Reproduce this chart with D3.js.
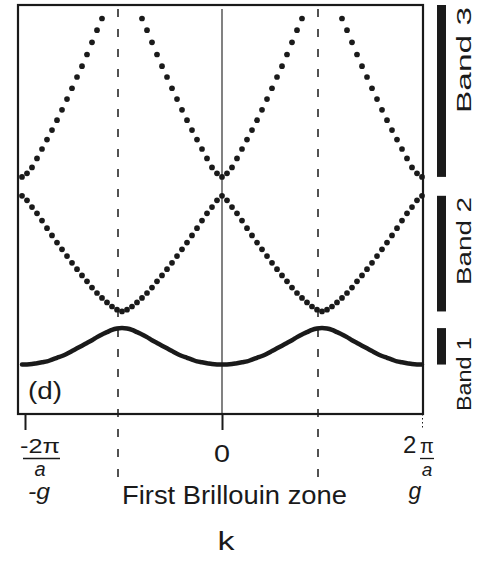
<!DOCTYPE html>
<html>
<head>
<meta charset="utf-8">
<script src="https://cdn.jsdelivr.net/npm/d3@7"></script>
<style>
  html, body { margin: 0; padding: 0; background: #fff; }
  svg { display: block; }
  text { font-family: "Liberation Sans", Arial, Helvetica, sans-serif; fill: #1a1a1a; }
</style>
</head>
<body>
<div id="chart"></div>
<script>
// Wave vector samples across two Brillouin zones, in units of pi/a
const kValues = [
  -2.00, -1.95, -1.90, -1.85, -1.80, -1.75, -1.70, -1.65, -1.60, -1.55,
  -1.50, -1.45, -1.40, -1.35, -1.30, -1.25, -1.20, -1.15, -1.10, -1.05,
  -1.00, -0.95, -0.90, -0.85, -0.80, -0.75, -0.70, -0.65, -0.60, -0.55,
  -0.50, -0.45, -0.40, -0.35, -0.30, -0.25, -0.20, -0.15, -0.10, -0.05,
   0.00,  0.05,  0.10,  0.15,  0.20,  0.25,  0.30,  0.35,  0.40,  0.45,
   0.50,  0.55,  0.60,  0.65,  0.70,  0.75,  0.80,  0.85,  0.90,  0.95,
   1.00,  1.05,  1.10,  1.15,  1.20,  1.25,  1.30,  1.35,  1.40,  1.45,
   1.50,  1.55,  1.60,  1.65,  1.70,  1.75,  1.80,  1.85,  1.90,  1.95,
   2.00
];

// Band energies (arbitrary units); null = above the plotted range
const band1 = [
  0.01, 0.01, 0.02, 0.04, 0.06, 0.08, 0.12, 0.16, 0.20, 0.25,
  0.31, 0.37, 0.43, 0.49, 0.55, 0.62, 0.68, 0.73, 0.78, 0.81,
  0.82, 0.81, 0.78, 0.73, 0.68, 0.62, 0.55, 0.49, 0.43, 0.37,
  0.31, 0.25, 0.20, 0.16, 0.12, 0.08, 0.06, 0.04, 0.02, 0.01,
  0.01, 0.01, 0.02, 0.04, 0.06, 0.08, 0.12, 0.16, 0.20, 0.25,
  0.31, 0.37, 0.43, 0.49, 0.55, 0.62, 0.68, 0.73, 0.78, 0.81,
  0.82, 0.81, 0.78, 0.73, 0.68, 0.62, 0.55, 0.49, 0.43, 0.37,
  0.31, 0.25, 0.20, 0.16, 0.12, 0.08, 0.06, 0.04, 0.02, 0.01,
  0.01
];

const band2 = [
  3.76, 3.66, 3.51, 3.37, 3.21, 3.04, 2.88, 2.72, 2.57, 2.42,
  2.27, 2.13, 1.99, 1.86, 1.72, 1.60, 1.49, 1.39, 1.30, 1.23,
  1.19, 1.23, 1.30, 1.39, 1.49, 1.60, 1.72, 1.86, 1.99, 2.13,
  2.27, 2.42, 2.57, 2.72, 2.88, 3.04, 3.21, 3.37, 3.51, 3.66,
  3.76, 3.66, 3.51, 3.37, 3.21, 3.04, 2.88, 2.72, 2.57, 2.42,
  2.27, 2.13, 1.99, 1.86, 1.72, 1.60, 1.49, 1.39, 1.30, 1.23,
  1.19, 1.23, 1.30, 1.39, 1.49, 1.60, 1.72, 1.86, 1.99, 2.13,
  2.27, 2.42, 2.57, 2.72, 2.88, 3.04, 3.21, 3.37, 3.51, 3.66,
  3.76
];

const band3 = [
  4.18, 4.26, 4.39, 4.59, 4.80, 5.01, 5.22, 5.44, 5.67, 5.91,
  6.15, 6.40, 6.64, 6.90, 7.17, 7.44, 7.70, null, null, null,
  null, null, null, null, 7.70, 7.44, 7.17, 6.90, 6.64, 6.40,
  6.15, 5.91, 5.67, 5.44, 5.22, 5.01, 4.80, 4.59, 4.39, 4.26,
  4.18, 4.26, 4.39, 4.59, 4.80, 5.01, 5.22, 5.44, 5.67, 5.91,
  6.15, 6.40, 6.64, 6.90, 7.17, 7.44, 7.70, null, null, null,
  null, null, null, null, 7.70, 7.44, 7.17, 6.90, 6.64, 6.40,
  6.15, 5.91, 5.67, 5.44, 5.22, 5.01, 4.80, 4.59, 4.39, 4.26,
  4.18
];

const bandNames = ["Band 1", "Band 2", "Band 3"];
const zoneLabel = "First Brillouin zone";
const axisLabel = "k";
const panelLabel = "(d)";

const W = 479, H = 566;
const frame = { left: 18, top: 5, right: 423, bottom: 414 };
const ink = "#1a1a1a";

const svg = d3.select("#chart").append("svg")
  .attr("width", W).attr("height", H)
  .attr("viewBox", `0 0 ${W} ${H}`);

svg.append("rect").attr("width", W).attr("height", H).attr("fill", "#fff");

const x = d3.scaleLinear().domain([-2, 2]).range([22, 422]);
const y = d3.scaleLinear().domain([-1.1, 8.0]).range([414.5, 5]);

// zone-centre reference line
svg.append("line")
  .attr("x1", x(0)).attr("x2", x(0))
  .attr("y1", frame.top + 4).attr("y2", frame.bottom)
  .attr("stroke", ink).attr("stroke-width", 1.1);

// zone boundaries at +/- pi/a
svg.selectAll("line.boundary").data([-1, 1]).enter().append("line")
  .attr("class", "boundary")
  .attr("x1", d => x(d) - 4).attr("x2", d => x(d) - 4)
  .attr("y1", frame.top + 4).attr("y2", 481)
  .attr("stroke", ink).attr("stroke-width", 1.5)
  .attr("stroke-dasharray", "8,12");

// bottom axis ticks at -g, 0, g
const axis = d3.axisBottom(x).tickValues([-2, 0, 2]).tickSize(16).tickFormat("");
const axisG = svg.append("g")
  .attr("transform", `translate(0,${frame.bottom})`)
  .call(axis);
axisG.select(".domain").remove();
axisG.selectAll(".tick line")
  .attr("stroke", ink)
  .attr("stroke-width", d => d === 2 ? 1 : 2)
  .attr("stroke-dasharray", d => d === 2 ? "1.5,2.5" : null)
  .attr("transform", d => d === -2 ? "translate(3,0)" : null);

// band 1: continuous curve
const line = d3.line()
  .defined((d, i) => band1[i] != null)
  .x((d, i) => x(kValues[i]))
  .y((d, i) => y(band1[i]))
  .curve(d3.curveCatmullRom);

svg.append("path")
  .datum(band1)
  .attr("d", line)
  .attr("fill", "none")
  .attr("stroke", ink)
  .attr("stroke-width", 4.5)
  .attr("stroke-linecap", "round")
  .attr("stroke-linejoin", "round");

// bands 2 and 3: dotted
[band2, band3].forEach(vals => {
  const pts = vals.map((v, i) => ({ k: kValues[i], e: v })).filter(d => d.e != null);
  svg.append("g").selectAll("circle").data(pts).enter().append("circle")
    .attr("cx", d => x(d.k))
    .attr("cy", d => y(d.e))
    .attr("r", 2.85)
    .attr("fill", ink);
});

// plot frame
svg.append("rect")
  .attr("x", frame.left).attr("y", frame.top)
  .attr("width", frame.right - frame.left)
  .attr("height", frame.bottom - frame.top)
  .attr("fill", "none").attr("stroke", ink).attr("stroke-width", 2.2);

// allowed-energy bars on the right
const bands = [band1, band2, band3];
bands.forEach((vals, i) => {
  const ext = d3.extent(vals.filter(v => v != null));
  const top = i === 2 ? y.domain()[1] : ext[1];
  svg.append("rect")
    .attr("x", 437).attr("width", 9)
    .attr("y", y(top))
    .attr("height", y(ext[0]) - y(top))
    .attr("fill", ink);
});

// band names, rotated
const bandLabelPos = [
  { cy: 374, len: 74 },
  { cy: 241, len: 88 },
  { cy: 60, len: 106 }
];
bandNames.forEach((name, i) => {
  const p = bandLabelPos[i];
  svg.append("text")
    .attr("transform", `translate(471,${p.cy}) rotate(-90)`)
    .attr("text-anchor", "middle")
    .attr("font-size", 21)
    .attr("textLength", p.len)
    .attr("lengthAdjust", "spacingAndGlyphs")
    .text(name);
});

// panel tag
svg.append("text")
  .attr("x", 28).attr("y", 399)
  .attr("font-size", 23)
  .attr("textLength", 34).attr("lengthAdjust", "spacingAndGlyphs")
  .text(panelLabel);

// tick labels: -2pi/a, 0, 2pi/a and -g, g
svg.append("text")
  .attr("x", 20).attr("y", 453)
  .attr("font-size", 21)
  .attr("textLength", 40).attr("lengthAdjust", "spacingAndGlyphs")
  .text("-2\u03c0");
svg.append("line")
  .attr("x1", 23).attr("x2", 60).attr("y1", 458.5).attr("y2", 458.5)
  .attr("stroke", ink).attr("stroke-width", 1.3);
svg.append("text")
  .attr("x", 40).attr("y", 476).attr("text-anchor", "middle")
  .attr("font-size", 20).attr("font-style", "italic")
  .text("a");
svg.append("text")
  .attr("x", 28).attr("y", 499)
  .attr("font-size", 22).attr("font-style", "italic")
  .attr("textLength", 22).attr("lengthAdjust", "spacingAndGlyphs")
  .text("-g");

svg.append("text")
  .attr("x", x(0)).attr("y", 462).attr("text-anchor", "middle")
  .attr("font-size", 24)
  .attr("textLength", 16).attr("lengthAdjust", "spacingAndGlyphs")
  .text("0");

svg.append("text")
  .attr("x", 403).attr("y", 453)
  .attr("font-size", 24)
  .text("2");
svg.append("text")
  .attr("x", 427).attr("y", 453).attr("text-anchor", "middle")
  .attr("font-size", 20)
  .text("\u03c0");
svg.append("line")
  .attr("x1", 420).attr("x2", 434).attr("y1", 458.5).attr("y2", 458.5)
  .attr("stroke", ink).attr("stroke-width", 1.3);
svg.append("text")
  .attr("x", 427).attr("y", 476).attr("text-anchor", "middle")
  .attr("font-size", 19).attr("font-style", "italic")
  .text("a");
svg.append("text")
  .attr("x", 415).attr("y", 499).attr("text-anchor", "middle")
  .attr("font-size", 23).attr("font-style", "italic")
  .text("g");

// zone caption and axis title
svg.append("text")
  .attr("x", 122).attr("y", 504)
  .attr("font-size", 25)
  .attr("textLength", 225).attr("lengthAdjust", "spacingAndGlyphs")
  .text(zoneLabel);

svg.append("text")
  .attr("x", 226).attr("y", 550).attr("text-anchor", "middle")
  .attr("font-size", 26)
  .attr("textLength", 17).attr("lengthAdjust", "spacingAndGlyphs")
  .text(axisLabel);
</script>
</body>
</html>
